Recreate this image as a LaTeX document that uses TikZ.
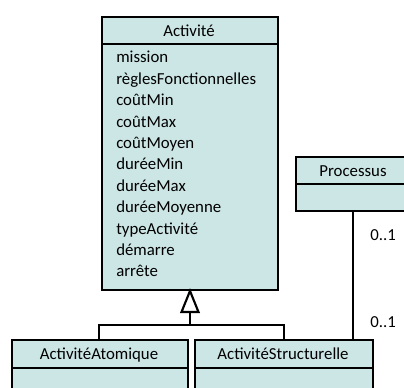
\documentclass[tikz,border=0pt]{standalone}
\usepackage{fontspec}
\setmainfont{Carlito}
\definecolor{umlfill}{RGB}{204,229,229}
\begin{document}
\begin{tikzpicture}[x=0.75pt,y=-0.75pt,
  box/.style={draw=black, line width=1.6pt, fill=umlfill, inner sep=0pt, anchor=north west},
  title/.style={font=\fontsize{12.6}{15}\selectfont, anchor=base},
  attr/.style={font=\fontsize{12.6}{15}\selectfont, anchor=base west, inner sep=0pt},
  mult/.style={font=\fontsize{12.6}{15}\selectfont, anchor=base west, inner sep=0pt},
  conn/.style={draw=black, line width=1.6pt}]
\useasboundingbox (0,0) rectangle (404,388);
% Activite
\node[box, minimum width=132pt, minimum height=184.5pt] (actB) at (101,43) {};
\node[box, minimum width=132pt, minimum height=20.25pt] (actH) at (101,16) {};
\node[title] (actT) at (189,37) {Activité};
\foreach \t [count=\i] in {mission,règlesFonctionnelles,coûtMin,coûtMax,coûtMoyen,duréeMin,duréeMax,duréeMoyenne,typeActivité,démarre,arrête}
  \node[attr] (a\i) at (116,{63+21.4*(\i-1)}) {\t};
% Processus
\node[box, minimum width=87pt, minimum height=20.25pt] (procB) at (295,183) {};
\node[box, minimum width=87pt, minimum height=20.25pt] (procH) at (295,156) {};
\node[title] (procT) at (353,177) {Processus};
% ActiviteAtomique
\node[box, minimum width=132pt, minimum height=24pt] (atoB) at (11,367) {};
\node[box, minimum width=132pt, minimum height=21pt] (atoH) at (11,339) {};
\node[title] (atoT) at (99,360) {ActivitéAtomique};
% ActiviteStructurelle
\node[box, minimum width=133.5pt, minimum height=24pt] (strB) at (194,367) {};
\node[box, minimum width=133.5pt, minimum height=21pt] (strH) at (194,339) {};
\node[title] (strT) at (283,360) {ActivitéStructurelle};
% inheritance
\coordinate (tip) at (190,291);
\coordinate (tbase) at (190,312);
\coordinate (join) at (190,325);
\draw[conn, fill=white, line join=miter] (tip) -- (181.5,312) -- (198.5,312) -- cycle;
\draw[conn] (tbase) -- (join);
\draw[conn] (atoH.north -| 99,0) |- (join) -| (strH.north -| 284,0);
% association
\draw[conn] (procB.south -| 353,0) -- (strH.north -| 353,0);
\node[mult] (m1) at (370,241) {0..1};
\node[mult] (m2) at (370,328) {0..1};
\end{tikzpicture}
\end{document}
